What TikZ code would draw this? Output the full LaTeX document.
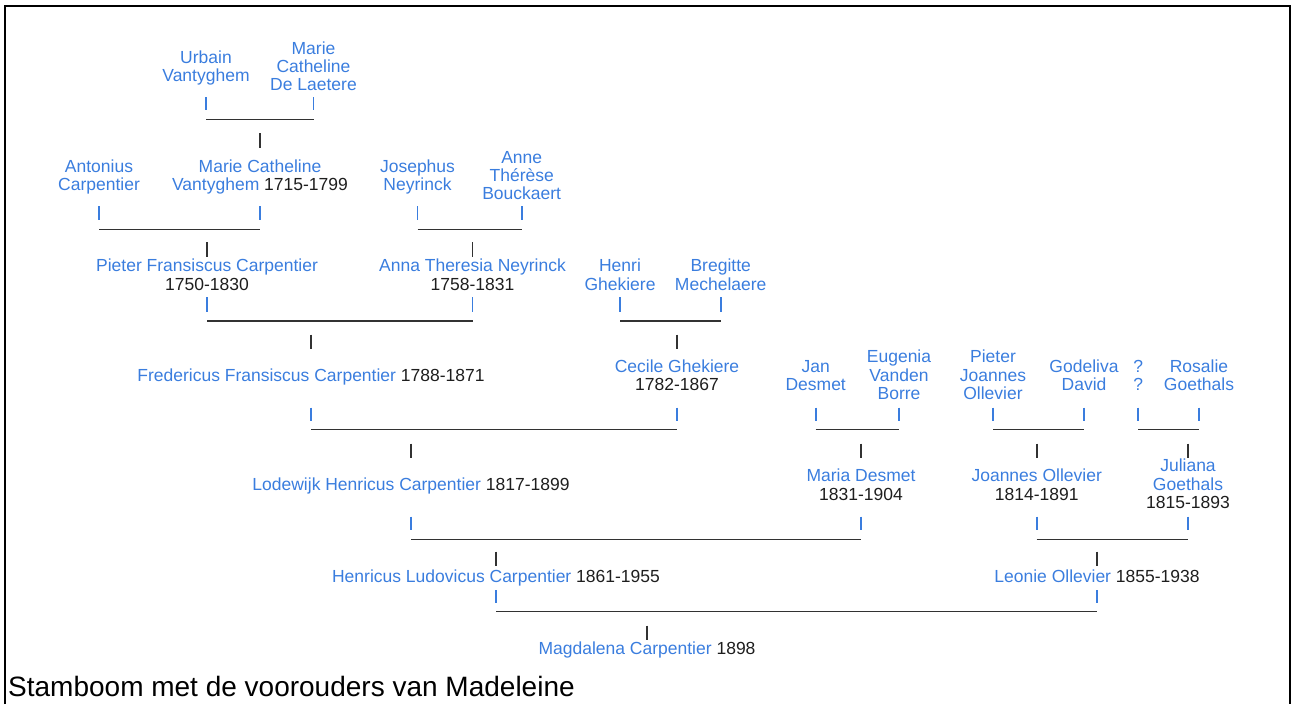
\documentclass[tikz,border=0pt]{standalone}
\usepackage{fontspec}
\setmainfont{Liberation Sans}
\definecolor{nameblue}{RGB}{58,125,222}
\definecolor{datecol}{RGB}{30,30,30}
\definecolor{linecol}{RGB}{50,50,50}
\newcommand\nm[1]{\textcolor{nameblue}{#1}}
\newcommand\per[1]{\begin{tabular}[t]{@{}c@{}}#1\end{tabular}}
\newcommand\namefont{\fontsize{17.5}{18.3}\selectfont}
\tikzset{
  person/.style={anchor=base, inner sep=0pt, font=\namefont, text=datecol},
  couple/.style={draw=linecol, line width=1.4pt},
  bluebar/.style={draw=nameblue, line width=1.8pt},
  kidbar/.style={draw=linecol, line width=1.7pt},
  frame/.style={draw=black, line width=1.3pt},
  caption/.style={anchor=base west, inner sep=0pt, font=\fontsize{28}{32}\selectfont, text=black}
}
\begin{document}
\begin{tikzpicture}[x=1pt,y=-1pt]
\useasboundingbox (0,0) rectangle (1298,704);
\draw[frame] (5,704) -- (5,6) -- (1290,6) -- (1290,704);

% generation 1
\node[person] (urbain) at (206,63) {\per{\nm{Urbain}\\\nm{Vantyghem}}};
\node[person] (mcdl) at (313.5,54) {\per{\nm{Marie}\\\nm{Catheline}\\\nm{De Laetere}}};
\draw[bluebar] (urbain |- 0,97) -- (urbain |- 0,110);
\draw[bluebar] (mcdl |- 0,97) -- (mcdl |- 0,110);
\draw[couple] (urbain |- 0,119.3) -- (mcdl |- 0,119.3);

% generation 2
\node[person] (antonius) at (99,172) {\per{\nm{Antonius}\\\nm{Carpentier}}};
\node[person] (mcv) at (260,172) {\per{\nm{Marie Catheline}\\\nm{Vantyghem} 1715-1799}};
\node[person] (josephus) at (417.5,172) {\per{\nm{Josephus}\\\nm{Neyrinck}}};
\node[person] (anne) at (521.7,163) {\per{\nm{Anne}\\\nm{Thérèse}\\\nm{Bouckaert}}};
\draw[kidbar] (mcv |- 0,133) -- (mcv |- 0,147.7);
\foreach \p in {antonius,mcv,josephus,anne}
  \draw[bluebar] (\p |- 0,206) -- (\p |- 0,220);
\draw[couple] (antonius |- 0,229.3) -- (mcv |- 0,229.3);
\draw[couple] (josephus |- 0,229.3) -- (anne |- 0,229.3);

% generation 3
\node[person] (pieter) at (207,271.7) {\per{\nm{Pieter Fransiscus Carpentier}\\1750-1830}};
\node[person] (anna) at (472.5,271.7) {\per{\nm{Anna Theresia Neyrinck}\\1758-1831}};
\node[person] (henri) at (620,271.7) {\per{\nm{Henri}\\\nm{Ghekiere}}};
\node[person] (bregitte) at (720.7,271.7) {\per{\nm{Bregitte}\\\nm{Mechelaere}}};
\draw[kidbar] (pieter |- 0,242.3) -- (pieter |- 0,256.7);
\draw[kidbar] (anna |- 0,242.3) -- (anna |- 0,256.7);
\foreach \p in {pieter,anna,henri,bregitte}
  \draw[bluebar] (\p |- 0,297) -- (\p |- 0,311.7);
\draw[couple] (pieter |- 0,321) -- (anna |- 0,321);
\draw[couple] (henri |- 0,321) -- (bregitte |- 0,321);

% generation 4
\node[person] (fredericus) at (311,381.3) {\nm{Fredericus Fransiscus Carpentier} 1788-1871};
\node[person] (cecile) at (677,372.3) {\per{\nm{Cecile Ghekiere}\\1782-1867}};
\node[person] (jan) at (815.7,372.3) {\per{\nm{Jan}\\\nm{Desmet}}};
\node[person] (eugenia) at (899,362.7) {\per{\nm{Eugenia}\\\nm{Vanden}\\\nm{Borre}}};
\node[person] (pjo) at (993,362.7) {\per{\nm{Pieter}\\\nm{Joannes}\\\nm{Ollevier}}};
\node[person] (godeliva) at (1084,372.3) {\per{\nm{Godeliva}\\\nm{David}}};
\node[person] (unknown) at (1138.3,372.3) {\per{\nm{?}\\\nm{?}}};
\node[person] (rosalie) at (1199,372.3) {\per{\nm{Rosalie}\\\nm{Goethals}}};
\draw[kidbar] (fredericus |- 0,334.5) -- (fredericus |- 0,349);
\draw[kidbar] (cecile |- 0,334.5) -- (cecile |- 0,349);
\foreach \p in {fredericus,cecile,jan,eugenia,pjo,godeliva,unknown,rosalie}
  \draw[bluebar] (\p |- 0,407.5) -- (\p |- 0,421);
\draw[couple] (fredericus |- 0,429.5) -- (cecile |- 0,429.5);
\draw[couple] (jan |- 0,429.5) -- (eugenia |- 0,429.5);
\draw[couple] (pjo |- 0,429.5) -- (godeliva |- 0,429.5);
\draw[couple] (unknown |- 0,429.5) -- (rosalie |- 0,429.5);

% generation 5
\node[person] (lodewijk) at (411,490.8) {\nm{Lodewijk Henricus Carpentier} 1817-1899};
\node[person] (maria) at (861,481.7) {\per{\nm{Maria Desmet}\\1831-1904}};
\node[person] (joannes) at (1036.7,481.7) {\per{\nm{Joannes Ollevier}\\1814-1891}};
\node[person] (juliana) at (1188,471.7) {\per{\nm{Juliana}\\\nm{Goethals}\\1815-1893}};
\foreach \p in {lodewijk,maria,joannes,juliana}
  \draw[kidbar] (\p |- 0,443.5) -- (\p |- 0,457.5);
\foreach \p in {lodewijk,maria,joannes,juliana}
  \draw[bluebar] (\p |- 0,516.7) -- (\p |- 0,530);
\draw[couple] (lodewijk |- 0,539.3) -- (maria |- 0,539.3);
\draw[couple] (joannes |- 0,539.3) -- (juliana |- 0,539.3);

% generation 6
\node[person] (henricus) at (496,582.3) {\nm{Henricus Ludovicus Carpentier} 1861-1955};
\node[person] (leonie) at (1097,582.3) {\nm{Leonie Ollevier} 1855-1938};
\draw[kidbar] (henricus |- 0,551.7) -- (henricus |- 0,566);
\draw[kidbar] (leonie |- 0,551.7) -- (leonie |- 0,566);
\draw[bluebar] (henricus |- 0,590) -- (henricus |- 0,603.3);
\draw[bluebar] (leonie |- 0,590) -- (leonie |- 0,603.3);
\draw[couple] (henricus |- 0,611.7) -- (leonie |- 0,611.7);

% generation 7
\node[person] (magdalena) at (647,654) {\nm{Magdalena Carpentier} 1898};
\draw[kidbar] (magdalena |- 0,625.5) -- (magdalena |- 0,640);

\node[caption] (cap) at (8,696) {Stamboom met de voorouders van Madeleine};
\end{tikzpicture}
\end{document}
